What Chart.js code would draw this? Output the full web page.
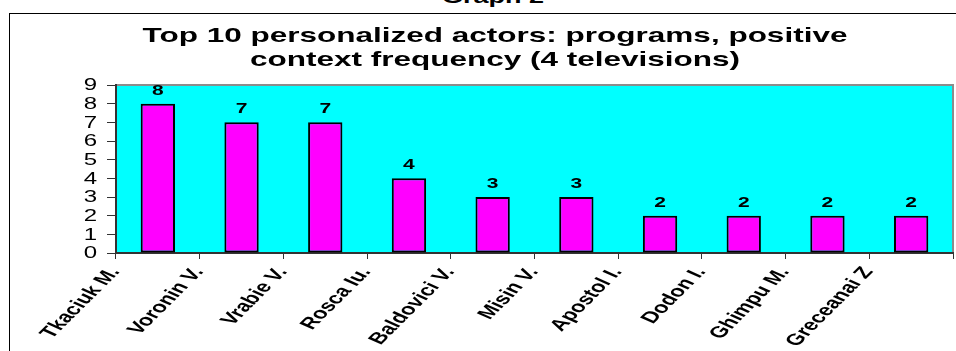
<!DOCTYPE html>
<html>
<head>
<meta charset="utf-8">
<script src="https://cdn.jsdelivr.net/npm/chart.js@4.4.1/dist/chart.umd.min.js"></script>
<style>
    html, body {
        margin: 0;
        padding: 0;
        width: 956px;
        height: 351px;
        overflow: hidden;
        background: #fff;
    }
    .caption {
        position: absolute;
        left: 0;
        width: 986px;
        top: -13px;
        text-align: center;
        font: bold 18px "Liberation Sans", Arial, sans-serif;
        color: #000;
        transform: scaleX(1.5);
        transform-origin: 493px 0;
    }
    .frame {
        position: absolute;
        left: 9px;
        top: 13px;
        width: 1000px;
        height: 400px;
        border: 1.5px solid #000;
    }
    .chart-box {
        position: absolute;
        left: 0;
        top: 0;
        width: 980px;
        height: 351px;
    }
</style>
</head>
<body>
<div class="caption">Graph 2</div>
<div class="frame"></div>
<div class="chart-box"><canvas id="actorsChart"></canvas></div>

<script>
// Chart data
const ACTORS = ['Tkaciuk M.', 'Voronin V.', 'Vrabie V.', 'Rosca Iu.', 'Baldovici V.', 'Misin V.', 'Apostol I.', 'Dodon I.', 'Ghimpu M.', 'Greceanai Z'];
const FREQUENCY = [8, 7, 7, 4, 3, 3, 2, 2, 2, 2];
const Y_TICKS = [0, 1, 2, 3, 4, 5, 6, 7, 8, 9];
const TITLE_LINES = ['Top 10 personalized actors: programs, positive', 'context frequency (4 televisions)'];

const FONT = '"Liberation Sans", Arial, sans-serif';
const STRETCH = 1.5;       // all text is drawn wide
const LABEL_ANGLE = 56;    // x label angle before widening (ends up ~45deg)

// Draw text widened horizontally around (x, y)
function wideText(ctx, text, x, y, angle) {
    ctx.save();
    ctx.translate(x, y);
    ctx.scale(STRETCH, 1);
    if (angle) ctx.rotate(-angle * Math.PI / 180);
    ctx.fillText(text, 0, 0);
    ctx.restore();
}

// Cyan plot background with grey frame on top and right
const plotBackground = {
    id: 'plotBackground',
    beforeDraw: (chart) => {
        const { ctx, chartArea: { left, right, top, bottom } } = chart;
        ctx.save();
        ctx.fillStyle = '#00FFFF';
        ctx.fillRect(left, top, right - left, bottom - top);
        ctx.strokeStyle = '#8c8c8c';
        ctx.lineWidth = 2;
        ctx.beginPath();
        ctx.moveTo(left, top);
        ctx.lineTo(right, top);
        ctx.lineTo(right, bottom);
        ctx.stroke();
        ctx.restore();
    }
};

// Title, axis labels and bar values
const wideLabels = {
    id: 'wideLabels',
    afterDraw: (chart) => {
        const { ctx, scales: { x, y } } = chart;
        ctx.save();
        ctx.fillStyle = '#000';

        // title
        ctx.font = 'bold 21px ' + FONT;
        ctx.textAlign = 'center';
        ctx.textBaseline = 'alphabetic';
        const cx = chart.width / 2 + 5;
        wideText(ctx, TITLE_LINES[0], cx, 42);
        wideText(ctx, TITLE_LINES[1], cx, 66);

        // y tick labels
        ctx.font = '16px ' + FONT;
        ctx.textAlign = 'right';
        ctx.textBaseline = 'middle';
        Y_TICKS.forEach(v => {
            wideText(ctx, String(v), y.right - 19, y.getPixelForValue(v) + 1);
        });

        // x tick labels, right end at the left edge of each category
        ctx.font = 'bold 16px ' + FONT;
        ctx.textAlign = 'right';
        ctx.textBaseline = 'middle';
        const half = (x.getPixelForTick(1) - x.getPixelForTick(0)) / 2;
        ACTORS.forEach((name, i) => {
            wideText(ctx, name, x.getPixelForTick(i) - half - 1, x.top + 16, LABEL_ANGLE);
        });

        // values above bars
        ctx.font = 'bold 14px ' + FONT;
        ctx.textAlign = 'center';
        ctx.textBaseline = 'alphabetic';
        chart.getDatasetMeta(0).data.forEach((bar, i) => {
            const { x: bx, y: by } = bar.getProps(['x', 'y'], true);
            wideText(ctx, String(FREQUENCY[i]), bx, by - 9);
        });
        ctx.restore();
    }
};

const ctx = document.getElementById('actorsChart').getContext('2d');

new Chart(ctx, {
    type: 'bar',
    data: {
        labels: ACTORS,
        datasets: [{
            data: FREQUENCY,
            backgroundColor: '#FF00FF',
            borderColor: '#000',
            borderWidth: 2,
            borderSkipped: false,
            categoryPercentage: 1,
            barPercentage: 0.41
        }]
    },
    options: {
        responsive: true,
        maintainAspectRatio: false,
        animation: false,
        layout: {
            padding: { top: 85, right: 27, left: 0, bottom: 0 }
        },
        plugins: {
            legend: { display: false },
            tooltip: { enabled: false },
            title: { display: false }
        },
        scales: {
            x: {
                grid: {
                    offset: true,
                    drawOnChartArea: false,
                    drawTicks: true,
                    tickLength: 6,
                    color: '#333'
                },
                border: { color: '#333', width: 2 },
                ticks: { display: false },
                afterFit: (scale) => { scale.height = 98; }
            },
            y: {
                min: 0,
                max: 9,
                grid: {
                    drawOnChartArea: false,
                    drawTicks: true,
                    tickLength: 9,
                    color: '#333'
                },
                border: { color: '#333', width: 2 },
                ticks: { display: false, stepSize: 1, autoSkip: false },
                afterFit: (scale) => { scale.width = 116; }
            }
        }
    },
    plugins: [plotBackground, wideLabels]
});
</script>
</body>
</html>
